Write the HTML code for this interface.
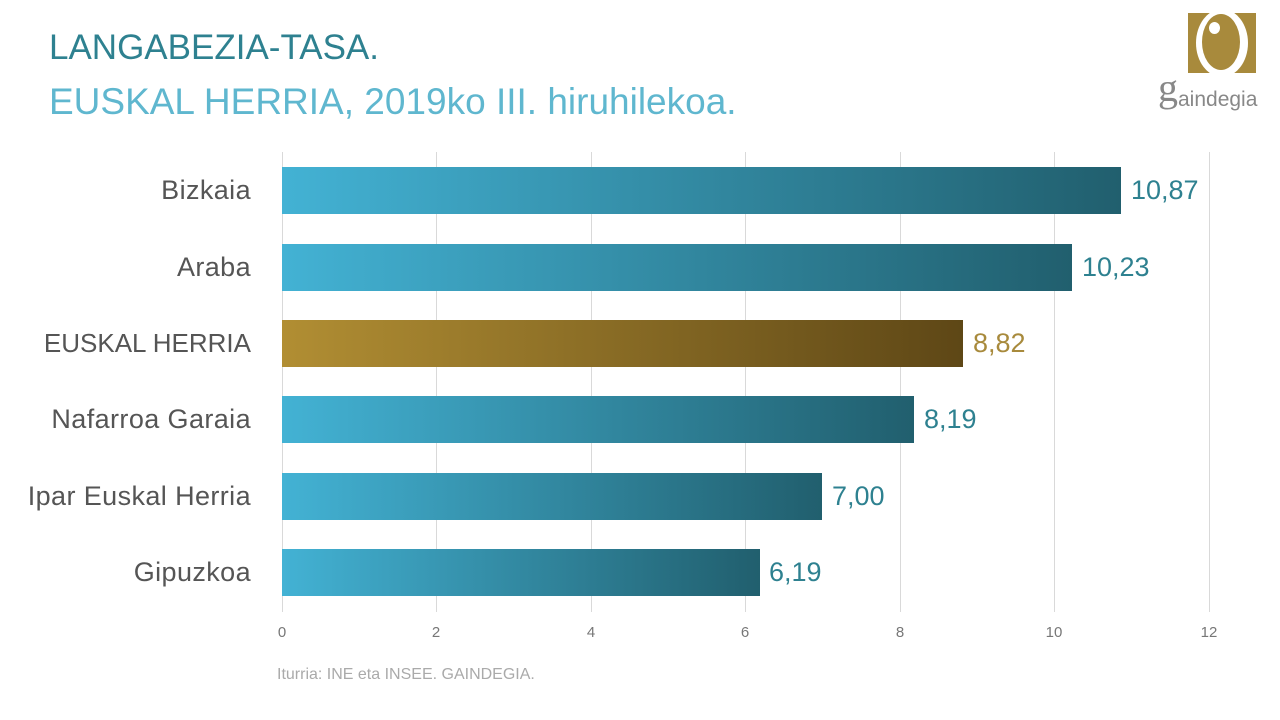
<!DOCTYPE html>
<html><head><meta charset="utf-8"><style>
body{margin:0;width:1280px;height:720px;background:#fff;position:relative;overflow:hidden;font-family:"Liberation Sans",sans-serif}
.t1{position:absolute;left:49px;top:28px;font-size:35px;color:#2e8190}
.t2{position:absolute;left:49px;top:81px;font-size:37px;color:#5fb7cf}
.g{position:absolute;top:152px;width:1px;height:460px;background:#d9d9d9}
.bar{position:absolute;left:282px;height:47px;background:linear-gradient(to right,#43b2d4,#215f6e)}
.bar.eh{background:linear-gradient(to right,#b18e33,#5e4716)}
.lab{position:absolute;right:1029px;font-size:27px;letter-spacing:0.4px;color:#555;white-space:nowrap;line-height:47px}
.val{position:absolute;font-size:27px;color:#2e8190;line-height:47px}
.ax{position:absolute;top:624px;font-size:15px;color:#777;transform:translateX(-50%)}
</style></head><body>
<div class="t1">LANGABEZIA-TASA.</div>
<div class="t2">EUSKAL HERRIA, 2019ko III. hiruhilekoa.</div>
<div style="position:absolute;left:1188px;top:13px;width:68px;height:60px;background:#a88a3c;overflow:hidden">
<div style="position:absolute;left:8px;top:-4px;width:52px;height:68px;border-radius:50%;background:#fff"></div>
<div style="position:absolute;left:14px;top:1px;width:38px;height:56px;border-radius:50%;background:#a88a3c"></div>
<div style="position:absolute;left:21px;top:9px;width:11px;height:12px;border-radius:50%;background:#fff"></div>
</div>
<div style="position:absolute;left:1158px;top:64px;font-size:40px;color:#888;font-family:'Liberation Serif',serif">g</div>
<div style="position:absolute;left:1178px;top:88px;font-size:21px;color:#888">aindegia</div>
<div class="g" style="left:282px"></div><div class="g" style="left:436px"></div><div class="g" style="left:591px"></div><div class="g" style="left:745px"></div><div class="g" style="left:900px"></div><div class="g" style="left:1054px"></div><div class="g" style="left:1209px"></div>
<div class="bar" style="top:167px;width:839px"></div><div class="lab" style="top:167px">Bizkaia</div><div class="val" style="top:167px;left:1131px">10,87</div>
<div class="bar" style="top:244px;width:790px"></div><div class="lab" style="top:244px">Araba</div><div class="val" style="top:244px;left:1082px">10,23</div>
<div class="bar eh" style="top:320px;width:681px"></div><div class="lab" style="top:320px;font-size:26px;letter-spacing:0">EUSKAL HERRIA</div><div class="val" style="top:320px;left:973px;color:#a88a3c">8,82</div>
<div class="bar" style="top:396px;width:632px"></div><div class="lab" style="top:396px">Nafarroa Garaia</div><div class="val" style="top:396px;left:924px">8,19</div>
<div class="bar" style="top:473px;width:540px"></div><div class="lab" style="top:473px">Ipar Euskal Herria</div><div class="val" style="top:473px;left:832px">7,00</div>
<div class="bar" style="top:549px;width:478px"></div><div class="lab" style="top:549px">Gipuzkoa</div><div class="val" style="top:549px;left:769px">6,19</div>
<div class="ax" style="left:282px">0</div><div class="ax" style="left:436px">2</div><div class="ax" style="left:591px">4</div><div class="ax" style="left:745px">6</div><div class="ax" style="left:900px">8</div><div class="ax" style="left:1054px">10</div><div class="ax" style="left:1209px">12</div>
<div style="position:absolute;left:277px;top:666px;font-size:16px;color:#aaa">Iturria: INE eta INSEE. GAINDEGIA.</div>
</body></html>
